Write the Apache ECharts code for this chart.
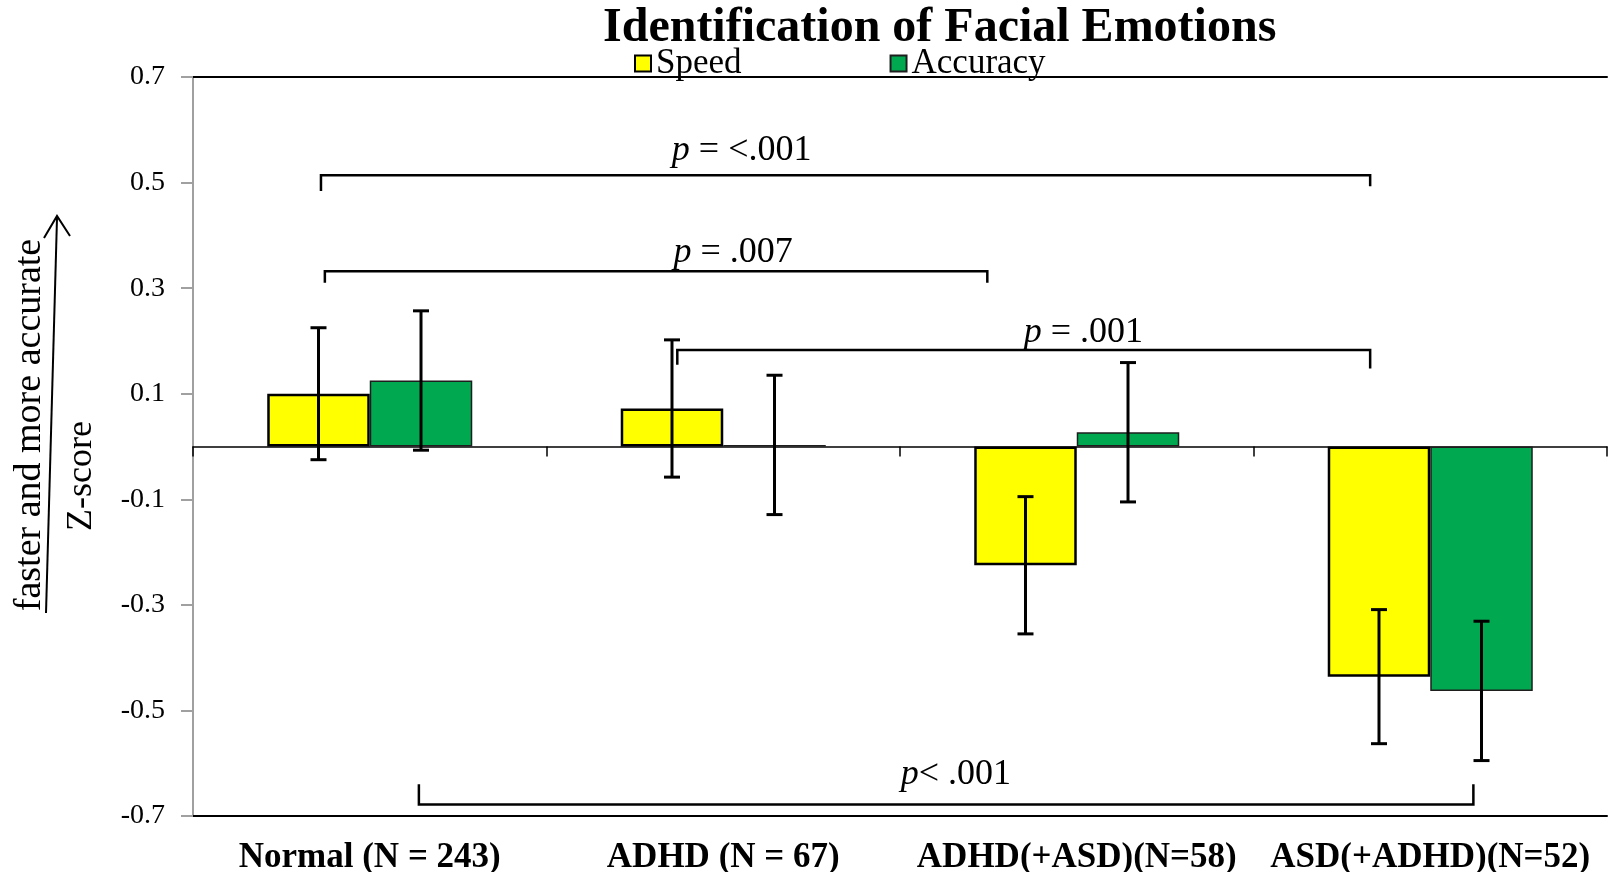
<!DOCTYPE html>
<html>
<head>
<meta charset="utf-8">
<script src="https://cdn.jsdelivr.net/npm/echarts@6/dist/echarts.min.js"></script>
<style>html,body{margin:0;padding:0;background:#fff;}#c{width:1615px;height:872px;}</style>
</head>
<body>
<div id="c"></div>
<script>
// ---- data ----
const categories = ['Normal (N = 243)', 'ADHD (N = 67)', 'ADHD(+ASD)(N=58)', 'ASD(+ADHD)(N=52)'];
const speed = [0.10, 0.072, -0.225, -0.436];
const speedErr = [0.125, 0.13, 0.13, 0.127];
const accuracy = [0.125, 0.003, 0.027, -0.463];
const accuracyErr = [0.132, 0.132, 0.132, 0.132];
const yTicks = [-0.7, -0.5, -0.3, -0.1, 0.1, 0.3, 0.5, 0.7];
// significance brackets: [x1 (category units), x2, yLine, yLeg1End, yLeg2End]
const brackets = [
  [-0.138, 2.83, 0.514, 0.484, 0.493],
  [-0.127, 1.747, 0.332, 0.31, 0.31],
  [0.87, 2.83, 0.183, 0.155, 0.148],
  [0.139, 3.122, -0.678, -0.64, -0.64]
];
const bracketOps = [' = <.001', ' = .007', ' = .001', '< .001'];
const bracketLabelPos = [[1.052, 0.561], [1.028, 0.368], [2.019, 0.216], [1.658, -0.621]];

const FONT = "'Times New Roman', 'Liberation Serif', serif";
const CAT_GAP = 0.42;

const chart = echarts.init(document.getElementById('c'));

function errRender(offsetSign) {
  return function (params, api) {
    const idx = api.value(0);
    const mean = api.value(1);
    const err = api.value(2);
    const cw = api.size([1, 0])[0];
    const bw = cw * (1 - CAT_GAP) / 2;
    const cx = api.coord([idx, mean])[0] + offsetSign * bw / 2;
    const yTop = api.coord([idx, mean + err])[1];
    const yBot = api.coord([idx, mean - err])[1];
    const cap = 8;
    const st = { stroke: '#000', lineWidth: 3 };
    return {
      type: 'group',
      children: [
        { type: 'line', shape: { x1: cx, y1: yTop, x2: cx, y2: yBot }, style: st },
        { type: 'line', shape: { x1: cx - cap, y1: yTop, x2: cx + cap, y2: yTop }, style: st },
        { type: 'line', shape: { x1: cx - cap, y1: yBot, x2: cx + cap, y2: yBot }, style: st }
      ]
    };
  };
}

function bracketRender(params, api) {
  const i = params.dataIndex;
  const b = brackets[i];
  const base = api.coord([0, 0])[0];
  const cw = api.size([1, 0])[0];
  const px = f => base + f * cw;
  const py = v => api.coord([0, v])[1];
  const x1 = px(b[0]), x2 = px(b[1]);
  const y = py(b[2]);
  const lp = bracketLabelPos[i];
  const st = { stroke: '#000', lineWidth: 2.5, fill: null };
  return {
    type: 'group',
    children: [
      { type: 'polyline', shape: { points: [[x1, py(b[3])], [x1, y], [x2, y], [x2, py(b[4])]] }, style: st },
      {
        type: 'text',
        x: px(lp[0]), y: py(lp[1]),
        style: {
          text: '{i|p}{n|' + bracketOps[i] + '}',
          align: 'center', verticalAlign: 'middle',
          rich: {
            i: { fontFamily: FONT, fontStyle: 'italic', fontSize: 36, fill: '#000' },
            n: { fontFamily: FONT, fontSize: 36, fill: '#000' }
          }
        }
      }
    ]
  };
}

const option = {
  animation: false,
  backgroundColor: '#fff',
  title: {
    text: 'Identification of Facial Emotions',
    left: 598, top: 0,
    textStyle: { fontFamily: FONT, fontWeight: 'bold', fontSize: 48, color: '#000' }
  },
  legend: {
    data: ['Speed', 'Accuracy'],
    left: 629, top: 41,
    itemWidth: 16, itemHeight: 16, itemGap: 148,
    icon: 'rect',
    textStyle: { fontFamily: FONT, fontSize: 35, color: '#000' }
  },
  grid: { left: 193, right: 8, top: 77, bottom: 56, containLabel: false, outerBoundsMode: 'none' },
  xAxis: [
    {
      type: 'category', data: categories, position: 'bottom',
      axisLine: { onZero: false, lineStyle: { color: '#000', width: 2 } },
      axisTick: { show: false },
      axisLabel: { interval: 0, hideOverlap: false, margin: 24, fontFamily: FONT, fontWeight: 'bold', fontSize: 35, color: '#000' }
    },
    {
      type: 'category', data: categories, position: 'bottom',
      axisLine: { onZero: true, lineStyle: { color: '#000', width: 1.5 } },
      axisTick: { show: true, length: 10, lineStyle: { color: '#000', width: 1.5 } },
      axisLabel: { show: false }
    },
    {
      type: 'category', data: categories, position: 'top',
      axisLine: { onZero: false, lineStyle: { color: '#000', width: 2 } },
      axisTick: { show: false }, axisLabel: { show: false }
    }
  ],
  yAxis: {
    type: 'value', min: -0.7, max: 0.7,
    axisLine: { show: true, onZero: false, lineStyle: { color: '#a0a0a0', width: 2 } },
    axisTick: { show: true, length: 12, customValues: yTicks, lineStyle: { color: '#a0a0a0', width: 2 } },
    axisLabel: { customValues: yTicks, margin: 28, fontFamily: FONT, fontSize: 28, color: '#000' },
    splitLine: { show: false }
  },
  graphic: [
    { type: 'text', x: 82, y: 476, rotation: Math.PI / 2,
      style: { text: 'Z-score', fontFamily: FONT, fontSize: 36, fill: '#000', align: 'center', verticalAlign: 'middle' } },
    { type: 'text', x: 30, y: 425, rotation: Math.PI / 2,
      style: { text: 'faster and more accurate', fontFamily: FONT, fontSize: 38, fill: '#000', align: 'center', verticalAlign: 'middle' } },
    { type: 'line', shape: { x1: 46, y1: 613, x2: 57, y2: 218 }, style: { stroke: '#000', lineWidth: 2 } },
    { type: 'polyline', shape: { points: [[44, 238], [57, 216], [70, 236]] }, style: { stroke: '#000', lineWidth: 2, fill: null } }
  ],
  series: [
    {
      name: 'Speed', type: 'bar', xAxisIndex: 0, data: speed,
      barGap: '0%', barCategoryGap: (CAT_GAP * 100) + '%',
      itemStyle: { color: '#ffff00', borderColor: '#000', borderWidth: 2.5 }
    },
    {
      name: 'Accuracy', type: 'bar', xAxisIndex: 0, data: accuracy,
      itemStyle: { color: '#00a84f', borderColor: '#1e1e1e', borderWidth: 1.5 }
    },
    {
      type: 'custom', xAxisIndex: 0, z: 10,
      data: speed.map((v, i) => [i, v, speedErr[i]]),
      encode: { x: 0, y: 1 },
      renderItem: errRender(-1)
    },
    {
      type: 'custom', xAxisIndex: 0, z: 10,
      data: accuracy.map((v, i) => [i, v, accuracyErr[i]]),
      encode: { x: 0, y: 1 },
      renderItem: errRender(1)
    },
    {
      type: 'custom', xAxisIndex: 0, z: 11, clip: false,
      data: brackets.map(b => [b[0], b[2]]),
      encode: { x: 0, y: 1 },
      renderItem: bracketRender
    }
  ]
};
chart.setOption(option);
</script>
</body>
</html>
